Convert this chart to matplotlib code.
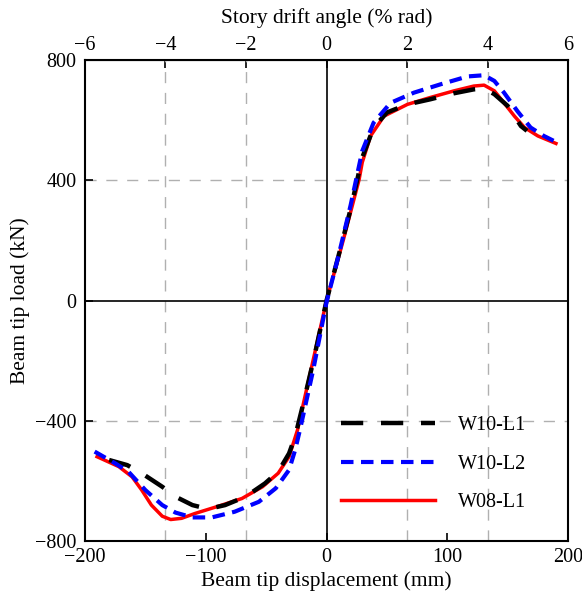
import matplotlib.pyplot as plt
import numpy as np

plt.rcParams['font.family'] = ['Liberation Serif', 'DejaVu Serif']

# W10-L1 (black, long dash)
d_w10l1 = [-180, -165, -153, -136, -125, -111, -98, -84, -67, -51, -40, -31, -26, -20, -10, 0,
           10, 20, 29.6, 39, 50, 67, 86, 105.6, 122, 130.5, 139, 150, 161, 166]
p_w10l1 = [-530, -547, -574, -619, -652, -680, -693, -680, -652, -608, -569, -508, -452, -355, -185, 0,
           150, 305, 476, 576, 626, 653, 670, 690, 703, 706, 687, 648, 581, 565]

# W10-L2 (blue, short dash)
d_w10l2 = [-192, -175, -164, -150, -136, -125, -111, -95, -76, -56, -42, -31, -26, -22, -11, 0,
           10, 20, 29.6, 39, 53, 72.4, 94.6, 116.8, 130.5, 139, 147, 158, 169, 180, 190]
p_w10l2 = [-502, -541, -569, -630, -680, -705, -721, -721, -702, -669, -624, -563, -497, -430, -230, -5,
           150, 318, 498, 592, 658, 692, 720, 746, 750, 731, 692, 631, 576, 548, 528]

# W08-L1 (red, solid)
d_w08l1 = [-190, -172, -161, -153, -145, -136, -129, -120, -109, -89, -70, -53, -40, -31, -24, -16, 0,
           14, 27, 29.6, 36.5, 47.6, 67, 86, 105.6, 122, 130.5, 139, 147, 155.6, 164, 175, 190]
p_w08l1 = [-519, -552, -586, -630, -680, -717, -728, -724, -708, -683, -658, -619, -574, -519, -430, -286, 0,
           203, 403, 460, 548, 614, 653, 676, 698, 714, 717, 698, 658, 614, 576, 548, 523]

drift_ticks = [-6, -4, -2, 0, 2, 4, 6]
mm_per_pct = 200 / 6.0

fig = plt.figure(figsize=(5.82, 5.96), dpi=100)
ax = fig.add_axes([0.146, 0.092, 0.830, 0.807])

# grid lines at drift ticks and +-400
for t in [-4, -2, 2, 4]:
    ax.axvline(t * mm_per_pct, color='#b0b0b0', lw=1.0, dashes=(8, 7), zorder=1)
for y in [-400, 400]:
    ax.axhline(y, color='#b0b0b0', lw=1.0, dashes=(8, 7), zorder=1)
ax.axvline(0, color='black', lw=1.2, zorder=1)
ax.axhline(0, color='black', lw=1.2, zorder=1)

ax.plot(d_w10l1, p_w10l1, color='black', lw=3.2, dashes=(5, 4), label='W10-L1', zorder=3,
        solid_joinstyle='round', dash_joinstyle='round')
ax.plot(d_w10l2, p_w10l2, color='blue', lw=3, dashes=(3, 1.8), label='W10-L2', zorder=4,
        solid_joinstyle='round', dash_joinstyle='round')
ax.plot(d_w08l1, p_w08l1, color='red', lw=2.5, label='W08-L1', zorder=2,
        solid_joinstyle='round')

ax.set_xlim(-200, 200)
ax.set_ylim(-800, 800)
ax.set_xticks([-200, -100, 0, 100, 200])
ax.set_yticks([-800, -400, 0, 400, 800])
ax.tick_params(direction='in', length=6, width=1.2, labelsize=14.5, right=False, top=False)
ax.tick_params(axis='x', pad=5)
ax.tick_params(axis='y', pad=6)
for s in ax.spines.values():
    s.set_linewidth(1.5)

ax.set_xlabel('Beam tip displacement (mm)', fontsize=15.5, labelpad=3)
ax.set_ylabel('Beam tip load (kN)', fontsize=15.5, labelpad=4)

top = ax.secondary_xaxis('top', functions=(lambda x: x / mm_per_pct, lambda x: x * mm_per_pct))
top.set_xticks(drift_ticks)
top.tick_params(direction='in', length=6, width=1.2, labelsize=14.5, pad=4)
top.set_xlabel('Story drift angle (% rad)', fontsize=15.5, labelpad=9)

leg = ax.legend(loc='lower right', frameon=False, fontsize=14.5, handlelength=4.7,
                labelspacing=0.98, bbox_to_anchor=(0.95, 0.022), handletextpad=1.1)

fig.savefig('out.png', dpi=100)
